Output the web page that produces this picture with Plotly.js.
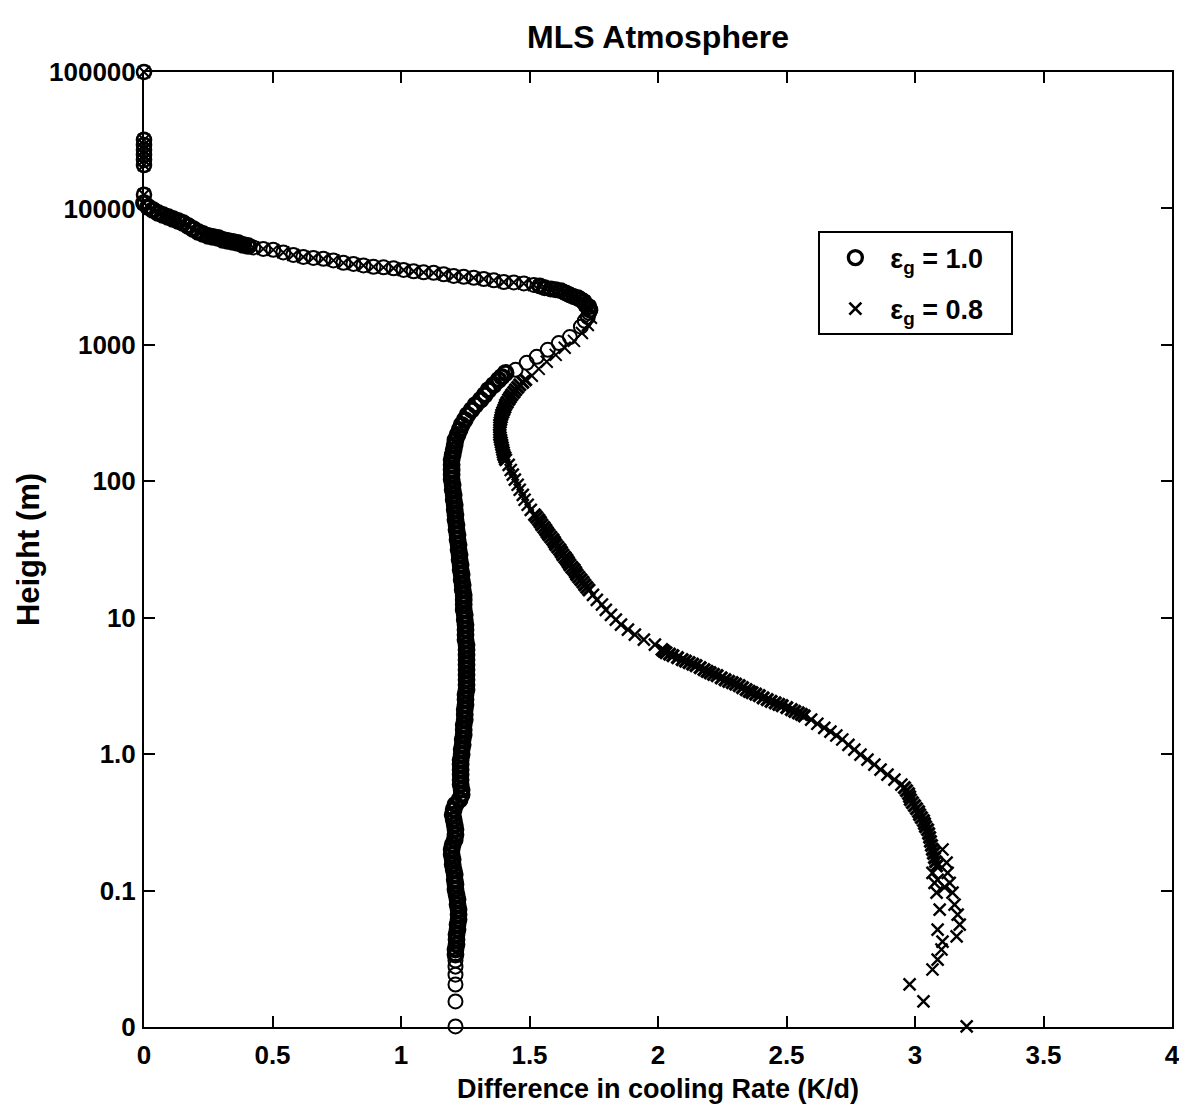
<!DOCTYPE html>
<html>
<head>
<meta charset="utf-8">
<script src="https://cdn.plot.ly/plotly-3.0.1.min.js"></script>
<style>html,body{margin:0;padding:0;background:#fff;}</style>
</head>
<body>
<div id="chart" style="width:1179px;height:1109px;"></div>
<script>
// ---- Data ----
// Upper part: both series coincide (height in m, difference in K/d)
var upperH = [100000, 31800, 29200, 26800, 24700, 22700, 20800, 12600,
  10970, 10250, 9750, 9270, 8960, 8660, 8380, 8100, 7830, 7440, 7080, 6730, 6500, 6290, 6180, 6080, 5880, 5780, 5680, 5590, 5400, 5310,
  5180, 5050, 4970, 4760, 4560, 4410, 4340, 4270, 4160, 3990, 3920, 3820, 3730, 3700, 3640, 3540, 3460, 3400, 3370, 3290, 3200, 3150, 3100, 3040, 2970, 2890, 2870, 2820, 2750,
  2700, 2620, 2570, 2530, 2490, 2400, 2320, 2250, 2210, 2140, 2070, 1960, 1900, 1800];
var upperX = [0, 0, 0, 0, 0, 0, 0, 0,
  0, 0.016, 0.035, 0.055, 0.074, 0.094, 0.113, 0.133, 0.152, 0.172, 0.191, 0.211, 0.230, 0.250, 0.269, 0.289, 0.308, 0.327, 0.347, 0.366, 0.386, 0.405,
  0.425, 0.464, 0.503, 0.542, 0.581, 0.620, 0.659, 0.698, 0.737, 0.776, 0.815, 0.854, 0.893, 0.932, 0.971, 1.010, 1.049, 1.088, 1.127, 1.166, 1.205, 1.244, 1.283, 1.322, 1.361, 1.400, 1.439, 1.478, 1.517,
  1.540, 1.559, 1.583, 1.602, 1.622, 1.641, 1.657, 1.673, 1.688, 1.700, 1.712, 1.719, 1.731, 1.735];

// Lower part, eps_g = 1.0 (circles)
var lowerH1 = [1716, 1600, 1499, 1360, 1140, 1030, 919, 817, 738, 656,
  623, 583, 554, 509, 468, 430, 396, 363, 334, 307, 282, 259, 238, 219, 201, 185, 170, 156, 144,
  132, 121, 112, 103, 94.3, 86.7, 79.6, 73.2, 67.3, 61.8, 56.8, 52.2, 48.0, 44.1, 40.6, 37.3, 34.3, 31.5, 28.9, 26.6,
  24.4, 22.5, 20.7, 19.0, 17.4, 16.0, 14.7, 13.5, 12.5, 11.4, 10.5, 9.67, 8.89, 8.17, 7.51, 6.90, 6.34,
  5.83, 5.36, 4.92, 4.53, 4.16, 3.82, 3.51, 3.23, 2.97,
  2.73, 2.51, 2.30, 2.12, 1.95, 1.79, 1.64, 1.51, 1.39, 1.28, 1.17, 1.08, 0.992, 0.911,
  0.838, 0.770, 0.708, 0.650, 0.598, 0.549, 0.505, 0.464, 0.427, 0.392, 0.360, 0.331, 0.304, 0.280, 0.257, 0.236, 0.217,
  0.200, 0.184, 0.169, 0.155, 0.142, 0.131, 0.120, 0.111, 0.102, 0.0935, 0.0859, 0.0789, 0.0726, 0.0667, 0.0613,
  0.0563, 0.0518, 0.0476, 0.0438, 0.0402, 0.0370, 0.0340,
  0.0307, 0.0277, 0.0242, 0.0205, 0.0154, 0.0101];
var lowerX1 = [1.731, 1.727, 1.715, 1.700, 1.657, 1.614, 1.571, 1.528, 1.489, 1.446,
  1.407, 1.392, 1.380, 1.361, 1.341, 1.326, 1.310, 1.290, 1.275, 1.259, 1.248, 1.236, 1.228, 1.220, 1.212, 1.209, 1.205, 1.201, 1.197,
  1.197, 1.197, 1.197, 1.197, 1.201, 1.201, 1.205, 1.205, 1.209, 1.209, 1.212, 1.212, 1.216, 1.216, 1.220, 1.220, 1.224, 1.224, 1.228, 1.228,
  1.232, 1.232, 1.236, 1.236, 1.240, 1.240, 1.244, 1.244, 1.244, 1.244, 1.248, 1.248, 1.251, 1.251, 1.251, 1.251, 1.255,
  1.255, 1.255, 1.255, 1.255, 1.255, 1.255, 1.255, 1.255, 1.255,
  1.251, 1.251, 1.251, 1.248, 1.248, 1.248, 1.244, 1.244, 1.244, 1.240, 1.240, 1.236, 1.236, 1.232,
  1.232, 1.232, 1.232, 1.232, 1.232, 1.236, 1.236, 1.228, 1.212, 1.205, 1.201, 1.205, 1.209, 1.212, 1.212, 1.209, 1.201,
  1.197, 1.197, 1.201, 1.201, 1.205, 1.209, 1.209, 1.212, 1.212, 1.216, 1.220, 1.220, 1.224, 1.224, 1.224,
  1.220, 1.220, 1.216, 1.216, 1.216, 1.212, 1.212,
  1.212, 1.212, 1.212, 1.212, 1.212, 1.212];

// Lower part, eps_g = 0.8 (crosses)
var lowerH2 = [1580, 1400, 1220, 1070, 951, 845, 751, 667, 593,
  554, 509, 468, 430, 396, 363, 334, 307, 282, 259, 238, 219, 201, 185, 170, 156, 144,
  531, 488, 449, 413, 379, 348, 320, 294, 270, 248, 228, 210, 193, 177, 163, 150,
  132, 121, 112, 103, 94.3, 86.7, 79.6, 73.2, 67.3, 61.8,
  56.8, 52.2, 48.0, 44.1, 40.6, 37.3, 34.3, 31.5, 28.9, 26.6, 24.4, 22.5, 20.7, 19.0, 17.4, 16.0,
  54.5, 50.1, 46.0, 42.3, 38.9, 35.8, 32.9, 30.2, 27.7, 25.5, 23.4, 21.6, 19.8, 18.2, 16.7,
  14.7, 13.5, 12.5, 11.4, 10.5, 9.67, 8.89, 8.17, 7.51, 6.90, 6.34,
  5.83, 5.54, 5.27, 4.92, 4.68, 4.45, 4.16, 3.95, 3.76, 3.51, 3.34, 3.18, 2.97, 2.82, 2.68, 2.51, 2.38, 2.27, 2.12, 2.01, 1.91,
  5.68, 5.40, 5.09, 4.80, 4.56, 4.30, 4.05, 3.85, 3.63, 3.42, 3.26, 3.07, 2.89, 2.75, 2.59, 2.44, 2.32, 2.19, 2.06, 1.96,
  1.79, 1.67, 1.56, 1.46, 1.37, 1.28, 1.17, 1.08, 0.992, 0.911, 0.838, 0.770, 0.708, 0.650, 0.598,
  0.568, 0.540, 0.514, 0.488, 0.464, 0.441, 0.419, 0.399, 0.379, 0.360, 0.342, 0.326, 0.310, 0.294, 0.280, 0.262, 0.245, 0.229, 0.214, 0.200, 0.187, 0.174, 0.163, 0.152,
  0.200, 0.160, 0.135, 0.114, 0.0967, 0.0789, 0.0667, 0.0563, 0.0461,
  0.135, 0.114, 0.0967, 0.0726, 0.0518, 0.0423, 0.0370, 0.0312, 0.0264, 0.0205, 0.0154, 0.0101,
  0.120, 0.106];
var lowerX2 = [1.739, 1.727, 1.704, 1.673, 1.637, 1.602, 1.567, 1.536, 1.509,
  1.485, 1.462, 1.446, 1.431, 1.419, 1.407, 1.400, 1.392, 1.388, 1.384, 1.384, 1.384, 1.388, 1.392, 1.396, 1.400, 1.407,
  1.474, 1.454, 1.439, 1.425, 1.413, 1.404, 1.396, 1.390, 1.386, 1.384, 1.384, 1.386, 1.390, 1.394, 1.398, 1.404,
  1.419, 1.427, 1.435, 1.443, 1.454, 1.462, 1.474, 1.481, 1.493, 1.505,
  1.520, 1.536, 1.548, 1.563, 1.575, 1.591, 1.602, 1.618, 1.630, 1.645, 1.657, 1.673, 1.684, 1.700, 1.715, 1.731,
  1.528, 1.542, 1.556, 1.569, 1.583, 1.597, 1.610, 1.624, 1.638, 1.651, 1.665, 1.679, 1.692, 1.708, 1.723,
  1.747, 1.762, 1.782, 1.797, 1.817, 1.836, 1.856, 1.883, 1.910, 1.945, 1.988,
  2.016, 2.031, 2.058, 2.094, 2.121, 2.148, 2.179, 2.203, 2.230, 2.261, 2.289, 2.316, 2.343, 2.366, 2.394, 2.425, 2.456, 2.483, 2.519, 2.546, 2.569,
  2.023, 2.045, 2.076, 2.107, 2.135, 2.164, 2.191, 2.216, 2.246, 2.275, 2.302, 2.329, 2.355, 2.380, 2.409, 2.440, 2.470, 2.501, 2.532, 2.558,
  2.596, 2.620, 2.647, 2.671, 2.694, 2.717, 2.741, 2.764, 2.788, 2.815, 2.842, 2.866, 2.893, 2.920, 2.947,
  2.959, 2.967, 2.975, 2.979, 2.982, 2.990, 2.998, 3.006, 3.014, 3.018, 3.025, 3.033, 3.037, 3.041, 3.049, 3.053, 3.057, 3.060, 3.064, 3.068, 3.072, 3.076, 3.080, 3.084,
  3.107, 3.123, 3.127, 3.135, 3.146, 3.154, 3.166, 3.174, 3.162,
  3.068, 3.076, 3.084, 3.096, 3.088, 3.107, 3.103, 3.088, 3.068, 2.979, 3.033, 3.201,
  3.088, 3.115];

var xTickVals = [0, 0.5, 1, 1.5, 2, 2.5, 3, 3.5, 4];
var xTickText = ['0', '0.5', '1', '1.5', '2', '2.5', '3', '3.5', '4'];
var yTickVals = [0.01, 0.1, 1, 10, 100, 1000, 10000, 100000];
var yTickText = ['0', '0.1', '1.0', '10', '100', '1000', '10000', '100000'];
var seriesNames = ['\u03b5<sub>g</sub> = 1.0\u00a0\u00a0\u00a0', '\u03b5<sub>g</sub> = 0.8\u00a0\u00a0\u00a0'];

// ---- Styling: stroke widths per group of points (overlapping markers look solid in dense runs) ----
function widths(groups) {
  var out = [];
  groups.forEach(function (g) { for (var i = 0; i < g[0]; i++) out.push(g[1]); });
  return out;
}
var THIN = 2, BOLD = 3.8, XBOLD = 3.2;
var circleWidths = widths([[8, 2.6], [22, BOLD], [29, THIN], [14, 3], [10, THIN], [118, BOLD], [6, THIN]]);
var crossWidths = widths([[73, THIN], [9, THIN], [17, XBOLD], [16, XBOLD], [10, 2.4], [16, XBOLD], [15, XBOLD],
  [11, 2.4], [21, XBOLD], [20, XBOLD], [15, 2.4], [24, XBOLD], [9, 2.4], [12, 2.4], [2, 2.4]]);

var FONT = 'Liberation Sans, Arial, Helvetica, sans-serif';

var traceCircles = {
  type: 'scatter', mode: 'markers', name: seriesNames[0], legendgroup: 'a',
  x: upperX.concat(lowerX1), y: upperH.concat(lowerH1),
  cliponaxis: false,
  marker: {symbol: 'circle-open', size: 14, color: '#000', line: {color: '#000', width: circleWidths}}
};
var traceCrosses = {
  type: 'scatter', mode: 'markers', name: seriesNames[1], legendgroup: 'b',
  x: upperX.concat(lowerX2), y: upperH.concat(lowerH2),
  cliponaxis: false,
  marker: {symbol: 'x-thin', size: 12, color: '#000', line: {color: '#000', width: crossWidths}}
};

var axisCommon = {
  showline: true, linecolor: '#000', linewidth: 2, mirror: 'ticks',
  ticks: 'inside', ticklen: 11, tickwidth: 2, tickcolor: '#000',
  showgrid: false, zeroline: false, ticklabeloverflow: 'allow',
  tickfont: {family: FONT, size: 26, color: '#000', weight: 'bold'}
};

var layout = {
  width: 1179, height: 1109,
  margin: {l: 144, r: 7, t: 72, b: 82, pad: 0},
  paper_bgcolor: '#fff', plot_bgcolor: '#fff',
  font: {family: FONT, color: '#000', size: 24, weight: 'bold'},
  title: {text: 'MLS Atmosphere', font: {family: FONT, size: 32, color: '#000', weight: 'bold'},
          xref: 'paper', x: 0.5, xanchor: 'center', yref: 'container', y: 0.967, yanchor: 'middle'},
  xaxis: Object.assign({}, axisCommon, {
    range: [0, 4], tickmode: 'array', tickvals: xTickVals, ticktext: xTickText,
    ticklabelstandoff: 4,
    title: {text: 'Difference in cooling Rate (K/d)', font: {family: FONT, size: 27, color: '#000', weight: 'bold'}, standoff: 10}
  }),
  yaxis: Object.assign({}, axisCommon, {
    type: 'log', range: [-2, 5], tickmode: 'array', tickvals: yTickVals, ticktext: yTickText,
    ticklabelstandoff: 1,
    title: {text: 'Height (m)', font: {family: FONT, size: 31, color: '#000', weight: 'bold'}, standoff: 0}
  }),
  showlegend: true,
  legend: {
    x: 0.656, y: 0.833, xanchor: 'left', yanchor: 'top',
    bgcolor: '#fff', bordercolor: '#000', borderwidth: 2,
    itemwidth: 60, tracegroupgap: 13, traceorder: 'grouped',
    font: {family: FONT, size: 27, color: '#000', weight: 'bold'}
  }
};

Plotly.newPlot('chart', [traceCircles, traceCrosses], layout, {displayModeBar: false, staticPlot: true});
</script>
</body>
</html>
